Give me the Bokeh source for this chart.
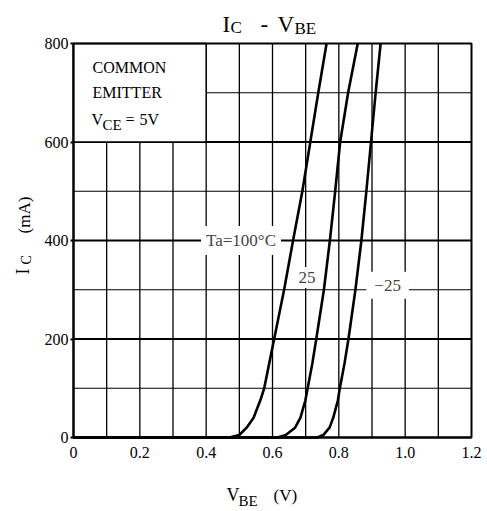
import math
from bokeh.plotting import figure
from bokeh.models import FixedTicker, Label, BoxAnnotation, Range1d
from bokeh.embed import file_html
from bokeh.resources import INLINE

# ---- data ----
ic_ma = [0, 0, 5, 20, 40, 75, 100, 150, 200, 300, 400, 500, 600, 700, 800]
vbe_100 = [0, 0.47, 0.50, 0.522, 0.543, 0.563, 0.575, 0.59, 0.605, 0.635, 0.662, 0.69, 0.714, 0.738, 0.763]
vbe_25 = [0, 0.615, 0.64, 0.668, 0.684, 0.699, 0.706, 0.72, 0.732, 0.755, 0.773, 0.789, 0.804, 0.828, 0.857]
vbe_m25 = [0, 0.735, 0.753, 0.772, 0.783, 0.797, 0.803, 0.817, 0.829, 0.85, 0.868, 0.883, 0.897, 0.911, 0.926]

curve_labels = ["Ta=100°C", "25", "\u221225"]
x_ticks = [0, 0.2, 0.4, 0.6, 0.8, 1.0, 1.2]
x_tick_labels = ["0", "0.2", "0.4", "0.6", "0.8", "1.0", "1.2"]
x_grid = [0.1, 0.2, 0.3, 0.4, 0.5, 0.6, 0.7, 0.8, 0.9, 1.0, 1.1]
y_ticks = [0, 200, 400, 600, 800]
y_minor = [100, 300, 500, 700]

FONT = "Liberation Serif"
W, H = 487, 511

# canvas pixel -> data (the data box spans px 73..471 horizontally, 43..437 vertically)
def dx(px):
    return (px - 73) * 1.2 / 398

def dy(py):
    return (437 - py) * 800 / 394

p = figure(width=W, height=H,
           x_range=Range1d(dx(0), dx(W)), y_range=Range1d(dy(H), dy(0)),
           output_backend="svg", toolbar_location=None, title=None,
           min_border=0, min_border_left=0, min_border_right=0,
           min_border_top=0, min_border_bottom=0)
p.background_fill_color = "white"
p.border_fill_color = "white"
p.outline_line_color = None
p.xgrid.visible = False
p.ygrid.visible = False

x_lo, x_hi = x_ticks[0], x_ticks[-1]
y_lo, y_hi = y_ticks[0], y_ticks[-1]

# grid lines
p.segment(x0=x_grid, y0=[y_lo] * len(x_grid), x1=x_grid, y1=[y_hi] * len(x_grid),
          line_color="black", line_width=1.3)
p.segment(x0=[x_lo] * len(y_minor), y0=y_minor, x1=[x_hi] * len(y_minor), y1=y_minor,
          line_color="black", line_width=1.2)
y_major_inner = y_ticks[1:-1]
p.segment(x0=[x_lo] * len(y_major_inner), y0=y_major_inner,
          x1=[x_hi] * len(y_major_inner), y1=y_major_inner,
          line_color="black", line_width=2.2)

# axes fixed at the data box edges
p.xaxis.fixed_location = y_lo
p.yaxis.fixed_location = x_lo
p.xaxis.bounds = (x_lo, x_hi)
p.yaxis.bounds = (y_lo, y_hi)
p.xaxis.ticker = FixedTicker(ticks=x_ticks)
p.xaxis.major_label_overrides = dict(zip(x_ticks, x_tick_labels))
p.yaxis.ticker = FixedTicker(ticks=y_ticks)
for ax in (p.xaxis[0], p.yaxis[0]):
    ax.axis_line_color = "black"
    ax.axis_line_width = 2
    ax.major_label_text_font = FONT
    ax.major_label_text_font_size = "16px"
    ax.major_label_text_color = "black"
    ax.minor_tick_out = 0
    ax.minor_tick_in = 0
    ax.major_tick_in = 0
    ax.major_tick_line_color = "black"
    ax.major_tick_line_width = 2
p.xaxis.major_tick_out = 0
p.xaxis.major_label_standoff = 9
p.yaxis.major_tick_out = 3
p.yaxis.major_label_standoff = 2

# curves
for xs in (vbe_100, vbe_25, vbe_m25):
    p.line(xs, ic_ma, line_color="black", line_width=2.6)

# blank box top-left (covers grid), then the data box border
p.add_layout(BoxAnnotation(left=x_ticks[0], right=x_ticks[2], bottom=y_ticks[3], top=y_ticks[4],
                           fill_color="white", fill_alpha=1,
                           line_color="black", line_width=1.5, line_alpha=1))
p.add_layout(BoxAnnotation(left=x_lo, right=x_hi, bottom=y_lo, top=y_hi,
                           fill_alpha=0, line_color="black", line_width=2, line_alpha=1))

def lab(px, py, text, size, angle=0.0):
    p.add_layout(Label(x=dx(px), y=dy(py), text=text, text_font=FONT,
                       text_font_size=size, text_color="black",
                       text_align="left", text_baseline="middle", angle=angle))

# curve labels with white background
p.add_layout(Label(x=0.505, y=400, text=curve_labels[0], text_font=FONT, text_font_size="17px",
                   text_align="center", text_baseline="middle", background_fill_color="white",
                   padding=5))
p.add_layout(Label(x=0.704, y=325, text=curve_labels[1], text_font=FONT, text_font_size="17px",
                   text_align="center", text_baseline="middle", background_fill_color="white",
                   padding=5))
p.add_layout(Label(x=0.947, y=309, text=curve_labels[2], text_font=FONT, text_font_size="17px",
                   text_align="center", text_baseline="middle", background_fill_color="white",
                   padding=8))

# condition text (positions are vertical centres of capitals)
lab(92, 66.5, "COMMON", "16px")
lab(92, 92, "EMITTER", "16px")
lab(91, 118.5, "V", "16px")
lab(102, 124, "CE", "15px")
lab(125, 118.5, "=", "16px")
lab(139, 118.5, "5V", "16px")

# title
lab(222, 23.5, "I", "23px")
lab(230, 27, "C", "17px")
lab(260, 23.5, "-", "23px")
lab(277, 23.5, "V", "23px")
lab(294, 27.5, "BE", "17px")

# x axis title
lab(226, 494.5, "V", "18px")
lab(238, 500, "BE", "15px")
lab(273, 494.5, "(V)", "17px")

# y axis title (rotated, reading upwards)
lab(22, 274, "I", "18px", angle=math.pi / 2)
lab(26, 264, "C", "14px", angle=math.pi / 2)
lab(23.5, 233, "(mA)", "17px", angle=math.pi / 2)

open("out.html", "w").write(file_html(p, INLINE))
